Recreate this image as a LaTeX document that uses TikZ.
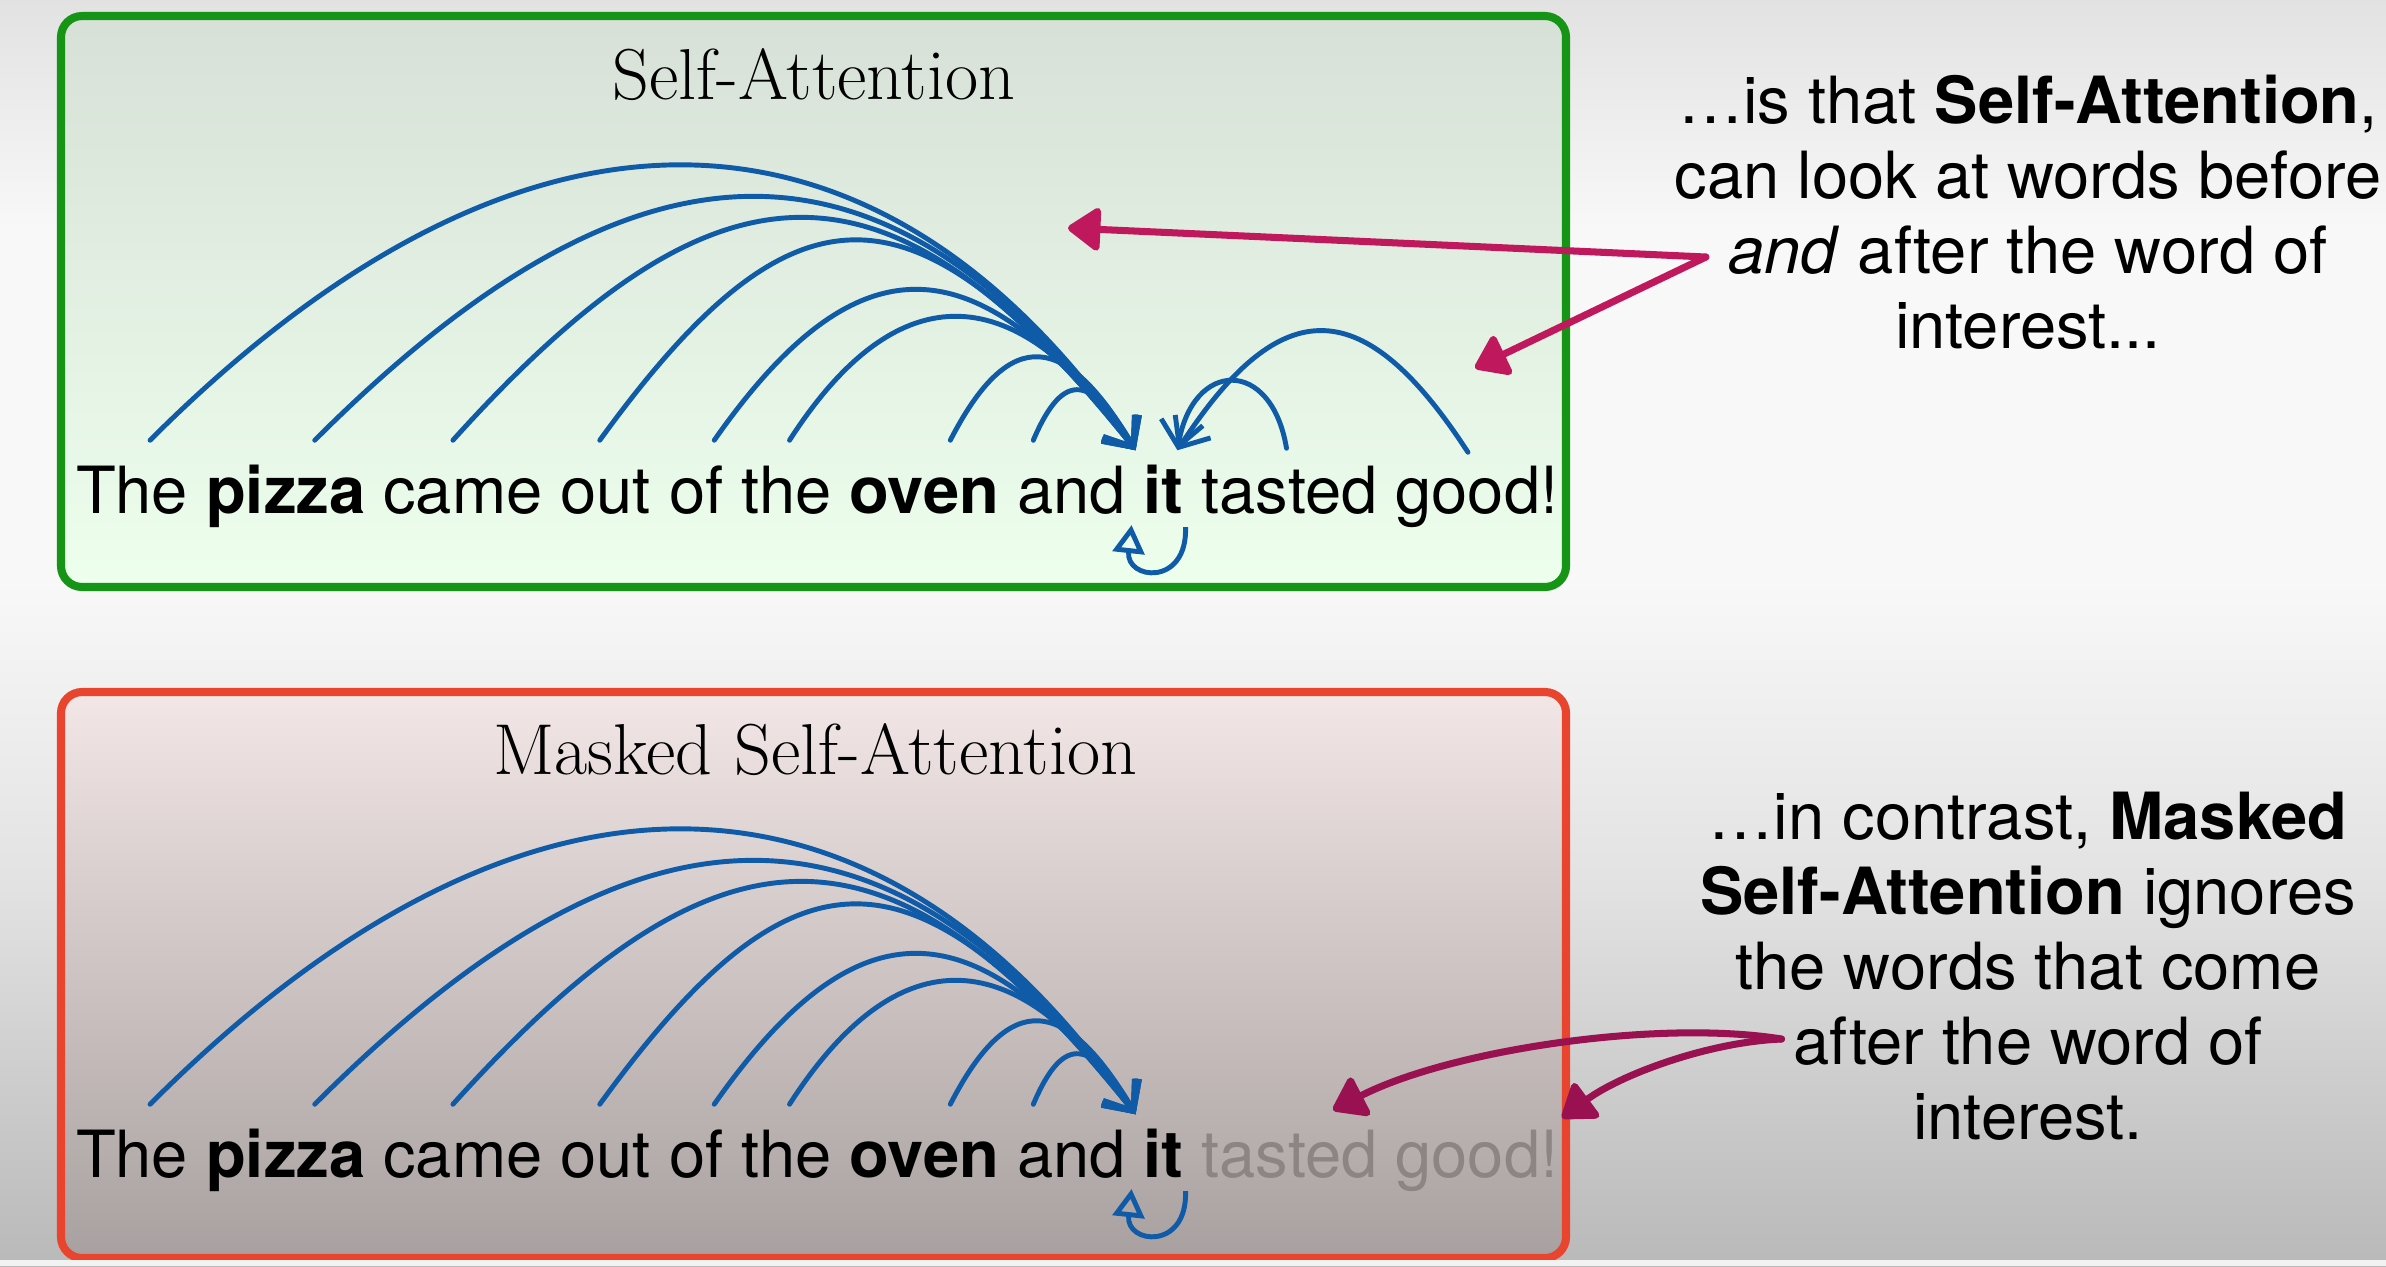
\documentclass[tikz,border=0pt]{standalone}
\usepackage{fontspec}
\usepackage{tikz}
\usetikzlibrary{positioning,arrows.meta}
\newfontfamily\helv{TeX Gyre Heros}

\definecolor{arcblue}{HTML}{0F5BA8}
\definecolor{pointpink}{HTML}{C0185C}
\definecolor{pointplum}{HTML}{991150}
\definecolor{okgreen}{HTML}{159415}
\definecolor{maskred}{HTML}{E8442E}
\definecolor{fadedword}{HTML}{8D8584}
\definecolor{bgtop}{HTML}{E2E2E2}
\definecolor{bglight}{HTML}{F8F8F8}
\definecolor{bgmid}{HTML}{E2E2E2}
\definecolor{bgbot}{HTML}{B9B9B9}
\pgfdeclareverticalshading{bgfade}{100bp}{color(0bp)=(bgbot); color(25bp)=(bgbot); color(40bp)=(bgmid); color(52bp)=(bglight); color(66bp)=(bglight); color(75bp)=(bgtop); color(100bp)=(bgtop)}

\tikzset{
  word/.style={font=\helv\fontsize{18.5}{21.3}\selectfont, inner sep=0pt, outer sep=0pt, text height=13.3pt, text depth=3.7pt},
  note/.style={font=\helv\fontsize{18.5}{21.3}\selectfont, align=center, inner sep=0pt},
  boxtitle/.style={font=\fontsize{20.5}{24}\selectfont, inner sep=0pt},
  attn/.style={draw=arcblue, line width=1.4pt, line cap=round, -{Straight Barb[length=7pt,width=12pt]}},
  selfloop/.style={draw=arcblue, line width=1.4pt, -{Triangle[open,length=8pt,width=9pt]}},
  pointer/.style={draw=pointpink, line width=2pt, line cap=round, -{Triangle[length=10pt,width=13.5pt,round]}},
}

\begin{document}
\begin{tikzpicture}[x=0.01cm, y=-0.01cm, node distance=0.181cm]
	\useasboundingbox (0,0) rectangle (2386,1266);
	% slide background
	\shade[shading=bgfade] (0,0) rectangle (2386,1266);

	% the two boxes
	\draw[draw=okgreen, line width=2.3pt, rounded corners=6pt, top color=green!4!white!88!black, bottom color=green!7!white] (61,16) rectangle (1566,587);
	\draw[draw=maskred, line width=2.3pt, rounded corners=6pt, top color=red!5!white!95!black, bottom color=red!5!white!66!black] (61,692) rectangle (1566,1258);
	\fill[white!95!black] (0,1260) rectangle (2386,1266);

	% box titles
	\node[boxtitle] (satitle) at (814,75) {Self-Attention};
	\node[boxtitle] (mtitle) at (815,750) {Masked Self-Attention};

	% the sentence, word by word
	\node[word, anchor=base west] (th) at (76,513) {The};
	\node[word, base right=of th] (pizza) {\textbf{pizza}};
	\node[word, base right=of pizza] (came) {came};
	\node[word, base right=of came] (out) {out};
	\node[word, base right=of out] (of) {of};
	\node[word, base right=of of] (the) {the};
	\node[word, base right=of the] (oven) {\textbf{oven}};
	\node[word, base right=of oven] (and) {and};
	\node[word, base right=of and] (it) {\textbf{it}};
	\node[word, base right=of it] (tasted) {tasted};
	\node[word, base right=of tasted] (good) {good!};

	\coordinate (inL) at ([shift={(-8,-16)}]it.north west);
	\coordinate (inR) at ([shift={(-6,-16)}]it.north east);

	% arcs from the words before "it"
	\draw[attn] ([shift={(18,-26)}]th.north) .. controls +(373,-373) and +(-258,-373) .. (inL);
	\draw[attn] ([shift={(29,-26)}]pizza.north) .. controls +(331,-331) and +(-242,-331) .. (inL);
	\draw[attn] ([shift={(-10,-26)}]came.north) .. controls +(273,-303) and +(-242,-303) .. (inL);
	\draw[attn] ([shift={(-6,-26)}]out.north) .. controls +(198,-273) and +(-219,-273) .. (inL);
	\draw[attn] ([shift={(18,-26)}]of.north) .. controls +(145,-207) and +(-158,-207) .. (inL);
	\draw[attn] ([shift={(3,-26)}]the.north) .. controls +(110,-171) and +(-117,-171) .. (inL);
	\draw[attn] ([shift={(26,-26)}]oven.north) .. controls +(60,-117) and +(-69,-117) .. (inL);
	\draw[attn] ([shift={(-38,-26)}]and.north) .. controls +(31,-73) and +(-43,-73) .. (inL);
	% arcs from the words after "it"
	\draw[attn] ([shift={(-3,-18)}]tasted.north) .. controls +(-15,-91) and +(15,-91) .. (inR);
	\draw[attn] ([shift={(-9,-14)}]good.north) .. controls +(-104,-160) and +(104,-160) .. (inR);
	% "it" looks at itself
	\draw[selfloop] ([shift={(22,1)}]it.south) .. controls +(2,60) and +(-6,55) .. ([shift={(-32,-1)}]it.south);

	% the masked sentence
	\node[word, anchor=base west] (mth) at (76,1177) {The};
	\node[word, base right=of mth] (mpizza) {\textbf{pizza}};
	\node[word, base right=of mpizza] (mcame) {came};
	\node[word, base right=of mcame] (mout) {out};
	\node[word, base right=of mout] (mof) {of};
	\node[word, base right=of mof] (mthe) {the};
	\node[word, base right=of mthe] (moven) {\textbf{oven}};
	\node[word, base right=of moven] (mand) {and};
	\node[word, base right=of mand] (mit) {\textbf{it}};
	\node[word, base right=of mit, text=fadedword] (mtasted) {tasted};
	\node[word, base right=of mtasted, text=fadedword] (mgood) {good!};

	\coordinate (minL) at ([shift={(-8,-16)}]mit.north west);

	% only the words before "it"
	\draw[attn] ([shift={(18,-26)}]mth.north) .. controls +(373,-373) and +(-258,-373) .. (minL);
	\draw[attn] ([shift={(29,-26)}]mpizza.north) .. controls +(331,-331) and +(-242,-331) .. (minL);
	\draw[attn] ([shift={(-10,-26)}]mcame.north) .. controls +(273,-303) and +(-242,-303) .. (minL);
	\draw[attn] ([shift={(-6,-26)}]mout.north) .. controls +(198,-273) and +(-219,-273) .. (minL);
	\draw[attn] ([shift={(18,-26)}]mof.north) .. controls +(145,-207) and +(-158,-207) .. (minL);
	\draw[attn] ([shift={(3,-26)}]mthe.north) .. controls +(110,-171) and +(-117,-171) .. (minL);
	\draw[attn] ([shift={(26,-26)}]moven.north) .. controls +(60,-117) and +(-69,-117) .. (minL);
	\draw[attn] ([shift={(-38,-26)}]mand.north) .. controls +(31,-73) and +(-43,-73) .. (minL);
	\draw[selfloop] ([shift={(22,1)}]mit.south) .. controls +(2,60) and +(-6,55) .. ([shift={(-32,-1)}]mit.south);

	% the notes on the right
	\node[note] (note1) at (2028,212) {…is that \textbf{Self-Attention},\\ can look at words before\\ \textit{and} after the word of\\ interest...};
	\node[note] (note2) at (2028,966) {…in contrast, \textbf{Masked}\\ \textbf{Self-Attention} ignores\\ the words that come\\ after the word of\\ interest.};

	% pointers from the notes
	\coordinate (fork1) at ([shift={(32,45)}]note1.west);
	\coordinate (lookback) at (1068,228);
	\coordinate (lookahead) at (1475,368);
	\draw[pointer] (fork1) -- (lookback);
	\draw[pointer] (fork1) -- (lookahead);

	\coordinate (fork2) at ([shift={(82,73)}]note2.west);
	\coordinate (maskL) at (1333,1110);
	\coordinate (maskR) at (1562,1118);
	\draw[pointer, draw=pointplum] (fork2) .. controls +(-124,-20) and +(117,-60) .. (maskL);
	\draw[pointer, draw=pointplum] (fork2) .. controls +(-74,3) and +(58,-43) .. (maskR);
\end{tikzpicture}
\end{document}
